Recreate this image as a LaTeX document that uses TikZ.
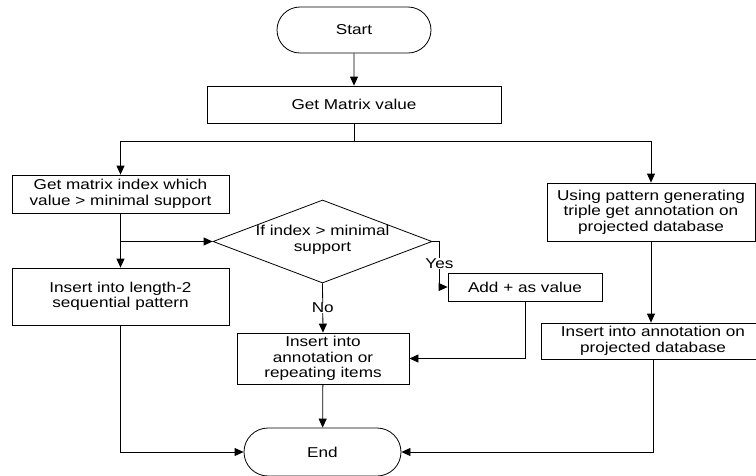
\documentclass[tikz,border=0pt]{standalone}
\usepackage{fontspec}
\setmainfont{Liberation Sans}[FakeStretch=1.2]
\usetikzlibrary{shapes.misc,shapes.geometric,arrows.meta}
\begin{document}
\begin{tikzpicture}[x=1pt,y=-1pt,
  every node/.style={font=\fontsize{14.3}{15.5}\selectfont, align=center, inner sep=0pt},
  box/.style={draw, line width=0.8pt, rectangle},
  term/.style={draw, line width=0.8pt, rounded rectangle},
  dia/.style={draw, line width=0.8pt, diamond},
  conn/.style={line width=0.8pt},
  arr/.style={conn, -{Triangle[length=9pt,width=8pt]}},
  lab/.style={fill=white, inner sep=0.5pt}]
\useasboundingbox (0,0) rectangle (756,475);
\node[term, minimum width=154pt, minimum height=46pt] (start) at (354,30) {Start};
\node[box, minimum width=294pt, minimum height=37pt] (gm) at (354,104.5) {Get Matrix value};
\node[box, minimum width=217pt, minimum height=38pt] (idx) at (120.5,194) {Get matrix index which\\value > minimal support};
\node[box, minimum width=217pt, minimum height=57pt] (len) at (120.5,296.5) {Insert into length-2\\sequential pattern};
\node[dia, minimum width=219pt, minimum height=83pt] (d) at (322.5,241.5) {};
\node (dt) at (322.5,240) {If index > minimal\\support};
\node[box, minimum width=154pt, minimum height=28pt] (add) at (525,287) {Add + as value};
\node[box, minimum width=172pt, minimum height=51pt] (rep) at (323,358.5) {Insert into\\annotation or\\repeating items};
\node[box, minimum width=208pt, minimum height=58pt] (use) at (651,212) {Using pattern generating\\triple get annotation on\\projected database};
\node[box, minimum width=224pt, minimum height=36pt] (proj) at (653,341) {Insert into annotation on\\projected database};
\node[term, minimum width=157pt, minimum height=48pt] (end) at (322.5,452) {End};
\coordinate (split) at (354,141);
\coordinate (br) at (120.5,241.5);
\draw[arr] (start) -- (gm);
\draw[conn] (gm.south) -- (split);
\draw[arr] (split) -| (idx.north);
\draw[arr] (split) -| (use.north);
\draw[arr] (idx) -- (len);
\draw[arr] (br) -- (d.west);
\draw[arr] (d.east) -- ++(7,0) |- (add.west) node[pos=0.24, lab] {Yes};
\draw[arr] (d.south) -- node[pos=0.5, lab] {No} (rep.north);
\draw[arr] (add.south) |- (rep.east);
\draw[arr] (rep) -- (end);
\draw[arr] (len.south) |- (end.west);
\draw[arr] (use.south) -- (use.south |- proj.north);
\draw[arr] (proj.south) |- (end.east);
\end{tikzpicture}
\end{document}
